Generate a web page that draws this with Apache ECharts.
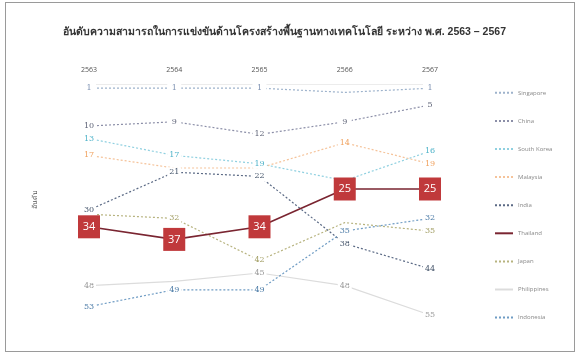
<!DOCTYPE html>
<html>
<head>
<meta charset="utf-8">
<script src="https://cdn.jsdelivr.net/npm/echarts@6/dist/echarts.min.js"></script>
<style>
html, body { margin: 0; padding: 0; background: #fff; }
#frame { position: absolute; left: 5px; top: 2px; width: 568px; height: 348px; border: 1px solid #9a9a9a; }
#chart { position: absolute; left: 0; top: 0; width: 579px; height: 353px; }
</style>
</head>
<body>
<div id="frame"></div>
<div id="chart"></div>
<script>
const years = ["2563", "2564", "2565", "2566", "2567"];

const singapore = [1, 1, 1, 2, 1];
const china = [10, 9, 12, 9, 5];
const southKorea = [13, 17, 19, 23, 16];
const malaysia = [17, 20, 20, 14, 19];
const india = [30, 21, 22, 38, 44];
const thailand = [34, 37, 34, 25, 25];
const japan = [31, 32, 42, 33, 35];
const philippines = [48, 47, 45, 48, 55];
const indonesia = [53, 49, 49, 35, 32];

// points whose label is hidden in the picture (overlaps)
const hidden = {
	Singapore: [3],
	Malaysia: [1, 2],
	Japan: [0, 3],
	Philippines: [1]
};

const chart = echarts.init(document.getElementById("chart"));

function rankSeries(name, values, color, labelColor, lineType) {
	const hide = hidden[name] || [];
	return {
		name: name,
		type: "line",
		data: values.map((v, i) => hide.includes(i)
			? { value: v, symbolSize: 0, label: { show: false } }
			: v),
		symbol: "rect",
		symbolSize: [14, 10],
		itemStyle: { color: "#fff", borderWidth: 0 },
		lineStyle: { color: color, width: 1.2, type: lineType || [2, 2] },
		label: {
			show: true,
			position: "inside",
			color: labelColor,
			fontSize: 8,
			fontFamily: "DejaVu Serif"
		},
		emphasis: { disabled: true },
		z: 2
	};
}

const series = [
	rankSeries("Singapore", singapore, "#9eb3cc", "#7f93b3"),
	rankSeries("China", china, "#8c8fa8", "#5f6478"),
	rankSeries("South Korea", southKorea, "#8fd0e0", "#4fb3c9"),
	rankSeries("Malaysia", malaysia, "#f5c39a", "#f0a25f"),
	rankSeries("India", india, "#5b6a85", "#44546a"),
	{
		name: "Thailand",
		type: "line",
		data: thailand,
		symbol: "rect",
		symbolSize: [22, 23],
		itemStyle: { color: "#c0393b" },
		lineStyle: { color: "#7a2531", width: 1.6 },
		label: {
			show: true,
			position: "inside",
			color: "#fff",
			fontSize: 11,
			fontFamily: "Open Sans"
		},
		emphasis: { disabled: true },
		z: 5
	},
	rankSeries("Japan", japan, "#b7b37f", "#a19d62"),
	rankSeries("Philippines", philippines, "#dcdcdc", "#9a9a9a", "solid"),
	rankSeries("Indonesia", indonesia, "#6f9cc4", "#4a7aa6")
];

const option = {
	animation: false,
	title: {
		text: "อันดับความสามารถในการแข่งขันด้านโครงสร้างพื้นฐานทางเทคโนโลยี ระหว่าง พ.ศ. 2563 – 2567",
		left: 58,
		top: 22,
		textStyle: { fontSize: 10.5, fontWeight: "bold", color: "#333" }
	},
	legend: {
		orient: "vertical",
		left: 489,
		top: 83,
		itemGap: 18.5,
		itemWidth: 18,
		itemHeight: 12,
		itemStyle: { color: "transparent", borderWidth: 0, opacity: 0 },
		textStyle: { fontSize: 6, color: "#888", fontFamily: "Open Sans" },
		data: series.map(s => s.name)
	},
	grid: {
		left: 89,
		right: 149,
		top: 84,
		bottom: 38
	},
	xAxis: {
		type: "category",
		position: "top",
		boundaryGap: false,
		data: years,
		axisLine: { lineStyle: { color: "#ececec" } },
		axisTick: { show: false },
		axisLabel: { fontSize: 7, color: "#555", margin: 11, fontFamily: "Open Sans" }
	},
	yAxis: {
		type: "value",
		inverse: true,
		min: 0,
		max: 55,
		name: "อันดับ",
		nameLocation: "middle",
		nameGap: 50,
		nameTextStyle: { fontSize: 7, color: "#555" },
		axisLine: { show: false },
		axisTick: { show: false },
		axisLabel: { show: false },
		splitLine: { show: false }
	},
	series: series
};

chart.setOption(option);
window.onresize = chart.resize;
</script>
</body>
</html>
